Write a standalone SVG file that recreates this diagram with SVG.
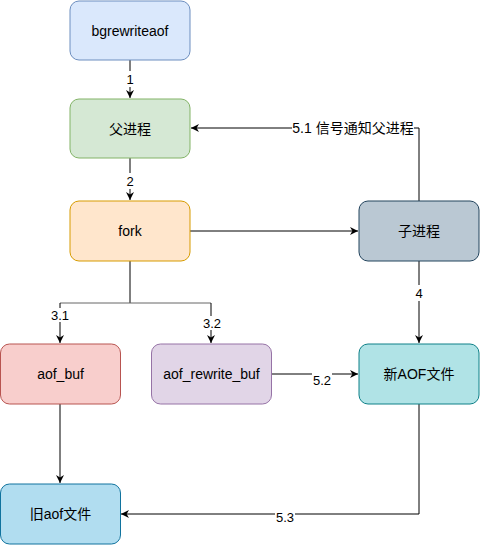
<svg xmlns="http://www.w3.org/2000/svg" width="480" height="545" viewBox="0 0 480 545">
<style>
.n{stroke-width:1}
.t{font-family:"Liberation Sans","Noto Sans CJK SC",sans-serif;font-size:14px;fill:#000;text-anchor:middle;dominant-baseline:central}
.e{fill:none;stroke:#000;stroke-width:1}
.g{fill:none;stroke:#666;stroke-width:1}
.l{font-family:"Liberation Sans","Noto Sans CJK SC",sans-serif;font-size:13px;fill:#000;text-anchor:middle;dominant-baseline:central}
.bg{fill:#fff}
</style>
<defs>
<marker id="a" viewBox="0 0 10 10" refX="10" refY="5" markerWidth="8" markerHeight="8" markerUnits="userSpaceOnUse" orient="auto">
<path d="M0,0 L10,5 L0,10 L3,5 z" fill="#000"/>
</marker>
</defs>
<rect width="480" height="545" fill="#fff"/>
<g id="connectors">
<path class="e" d="M130,60 V98" marker-end="url(#a)"/>
<path class="e" d="M130,158 V200" marker-end="url(#a)"/>
<path class="e" d="M190,231 H358" marker-end="url(#a)"/>
<path class="e" d="M419,201 V128 H191" marker-end="url(#a)"/>
<path class="e" d="M130,261 V303"/>
<path class="g" d="M130,303 H60"/>
<path class="g" d="M130,303 H211"/>
<path class="e" d="M60,303 V343" marker-end="url(#a)"/>
<path class="e" d="M211,303 V343" marker-end="url(#a)"/>
<path class="e" d="M419,261 V343" marker-end="url(#a)"/>
<path class="e" d="M271,374 H358" marker-end="url(#a)"/>
<path class="e" d="M60,404 V483" marker-end="url(#a)"/>
<path class="e" d="M419,404 V514 H121" marker-end="url(#a)"/>
<rect class="bg" x="125" y="71" width="10" height="16"/>
<text class="l" x="130" y="79">1</text>
<rect class="bg" x="125" y="173" width="10" height="16"/>
<text class="l" x="130" y="181">2</text>
<rect class="bg" x="292" y="120" width="122" height="16"/>
<text class="l" x="353" y="128" style="font-size:14px">5.1 信号通知父进程</text>
<rect class="bg" x="50" y="308" width="20" height="14"/>
<text class="l" x="60" y="315">3.1</text>
<rect class="bg" x="202" y="316" width="20" height="14"/>
<text class="l" x="212" y="323">3.2</text>
<rect class="bg" x="414" y="285" width="10" height="16"/>
<text class="l" x="419" y="293">4</text>
<rect class="bg" x="312" y="372" width="20" height="15"/>
<text class="l" x="322" y="380">5.2</text>
<rect class="bg" x="275" y="509" width="20" height="15"/>
<text class="l" x="285" y="517">5.3</text>
</g>
<g id="bgrewriteaof"><rect class="n" x="70" y="1" width="120" height="59" rx="9" fill="#dae8fc" stroke="#6c8ebf"/><text class="t" x="130" y="30.5">bgrewriteaof</text></g>
<g id="parent"><rect class="n" x="70" y="99" width="120" height="59" rx="9" fill="#d5e8d4" stroke="#82b366"/><text class="t" x="130" y="128.5">父进程</text></g>
<g id="fork"><rect class="n" x="70" y="201" width="120" height="60" rx="9" fill="#ffe6cc" stroke="#d79b00"/><text class="t" x="130" y="231">fork</text></g>
<g id="child"><rect class="n" x="359" y="201" width="120" height="60" rx="9" fill="#bac8d3" stroke="#23445d"/><text class="t" x="419" y="231">子进程</text></g>
<g id="aof_buf"><rect class="n" x="0.5" y="344" width="120" height="60" rx="9" fill="#f8cecc" stroke="#b85450"/><text class="t" x="60.5" y="374">aof_buf</text></g>
<g id="aof_rewrite_buf"><rect class="n" x="151.5" y="344" width="120" height="60" rx="9" fill="#e1d5e7" stroke="#9673a6"/><text class="t" x="211.5" y="374">aof_rewrite_buf</text></g>
<g id="new_aof"><rect class="n" x="359" y="344" width="120" height="60" rx="9" fill="#b0e3e6" stroke="#0e8088"/><text class="t" x="419" y="374">新AOF文件</text></g>
<g id="old_aof"><rect class="n" x="0.5" y="484" width="120" height="60" rx="9" fill="#b1ddf0" stroke="#10739e"/><text class="t" x="60.5" y="514">旧aof文件</text></g>
</svg>
